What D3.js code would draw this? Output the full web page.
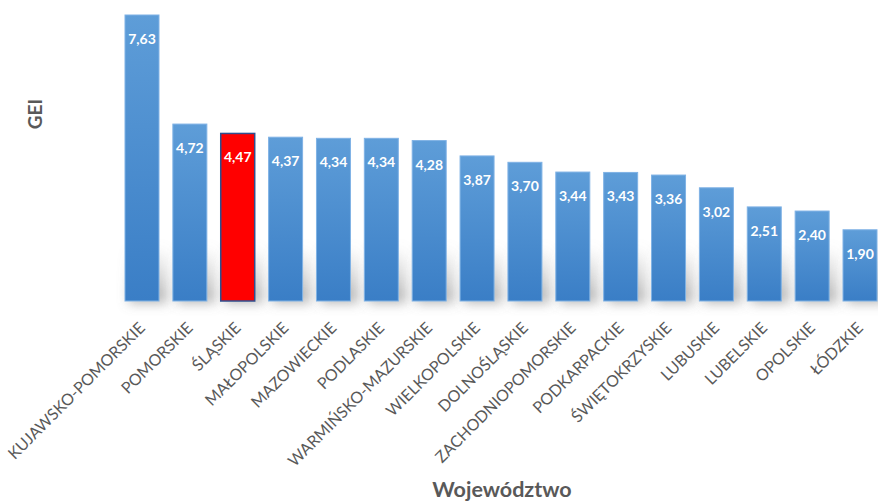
<!DOCTYPE html>
<html><head><meta charset="utf-8">
<script src="https://cdn.jsdelivr.net/npm/d3@7"></script>
<style>body{margin:0;background:#fff;} svg{display:block;}</style>
</head><body>
<svg id="c" width="878" height="504"></svg>
<script>
const categories = ["KUJAWSKO-POMORSKIE","POMORSKIE","ŚLĄSKIE","MAŁOPOLSKIE","MAZOWIECKIE","PODLASKIE","WARMIŃSKO-MAZURSKIE","WIELKOPOLSKIE","DOLNOŚLĄSKIE","ZACHODNIOPOMORSKIE","PODKARPACKIE","ŚWIĘTOKRZYSKIE","LUBUSKIE","LUBELSKIE","OPOLSKIE","ŁÓDZKIE"];
const values = [7.63,4.72,4.47,4.37,4.34,4.34,4.28,3.87,3.70,3.44,3.43,3.36,3.02,2.51,2.40,1.90];
const highlighted = ["ŚLĄSKIE"];
const yTitle = "GEI";
const xTitle = "Województwo";

const svg = d3.select("#c");
const font = "Lato, 'Open Sans', sans-serif";
const baseY = 301;
const x = d3.scaleBand().domain(categories).range([125, 877]).paddingInner(0.29).paddingOuter(0);
const y = d3.scaleLinear().domain([0, 7.63]).range([baseY, 15]);

const defs = svg.append("defs");
const g = defs.append("linearGradient").attr("id","bg").attr("x1",0).attr("y1",0).attr("x2",0).attr("y2",1);
g.append("stop").attr("offset","0%").attr("stop-color","#5E9DD8");
g.append("stop").attr("offset","100%").attr("stop-color","#3A7EC6");
const f = defs.append("filter").attr("id","blur").attr("x","-50%").attr("y","-50%").attr("width","200%").attr("height","200%");
f.append("feGaussianBlur").attr("stdDeviation",6);
const sg = defs.append("linearGradient").attr("id","sg").attr("x1",0).attr("y1",0).attr("x2",0).attr("y2",1);
sg.append("stop").attr("offset","0%").attr("stop-color","#888").attr("stop-opacity",0);
sg.append("stop").attr("offset","100%").attr("stop-color","#777").attr("stop-opacity",0.6);

// shadows
svg.append("g").selectAll("rect").data(categories).join("rect")
  .attr("x", d => x(d) + 4)
  .attr("width", x.bandwidth() + 4)
  .attr("y", (d,i) => Math.max(y(values[i]), baseY - 55))
  .attr("height", (d,i) => baseY + 2 - Math.max(y(values[i]), baseY - 55))
  .attr("fill", "url(#sg)")
  .attr("filter", "url(#blur)");

// bars
svg.append("g").selectAll("rect").data(categories).join("rect")
  .attr("x", d => x(d))
  .attr("width", x.bandwidth())
  .attr("y", (d,i) => y(values[i]))
  .attr("height", (d,i) => baseY - y(values[i]))
  .attr("fill", d => highlighted.includes(d) ? "#FF0000" : "url(#bg)")
  .attr("stroke", d => highlighted.includes(d) ? "#2F4F8F" : "#7FB2E5")
  .attr("stroke-width", d => highlighted.includes(d) ? 1.5 : 1);

// value labels
svg.append("g").selectAll("text").data(categories).join("text")
  .attr("x", d => x(d) + x.bandwidth()/2)
  .attr("y", (d,i) => y(values[i]) + 29)
  .attr("text-anchor","middle")
  .attr("font-family", font).attr("font-weight","bold").attr("font-size", 14)
  .attr("fill","#fff")
  .text((d,i) => values[i].toFixed(2).replace(".", ","));

// category labels
svg.append("g").selectAll("text").data(categories).join("text")
  .attr("transform", d => `translate(${x(d) + x.bandwidth()/2 + 4},${baseY + 28}) rotate(-45)`)
  .attr("text-anchor","end")
  .attr("font-family", font).attr("font-size", 16)
  .attr("fill","#595959")
  .text(d => d);

// axis titles
svg.append("text")
  .attr("transform","translate(42,114) rotate(-90)")
  .attr("text-anchor","middle")
  .attr("font-family", font).attr("font-weight","bold").attr("font-size", 19)
  .attr("fill","#595959").text(yTitle);
svg.append("text")
  .attr("x", 502).attr("y", 497)
  .attr("text-anchor","middle")
  .attr("font-family", font).attr("font-weight","bold").attr("font-size", 21.5)
  .attr("fill","#595959").text(xTitle);
</script>
</body></html>
